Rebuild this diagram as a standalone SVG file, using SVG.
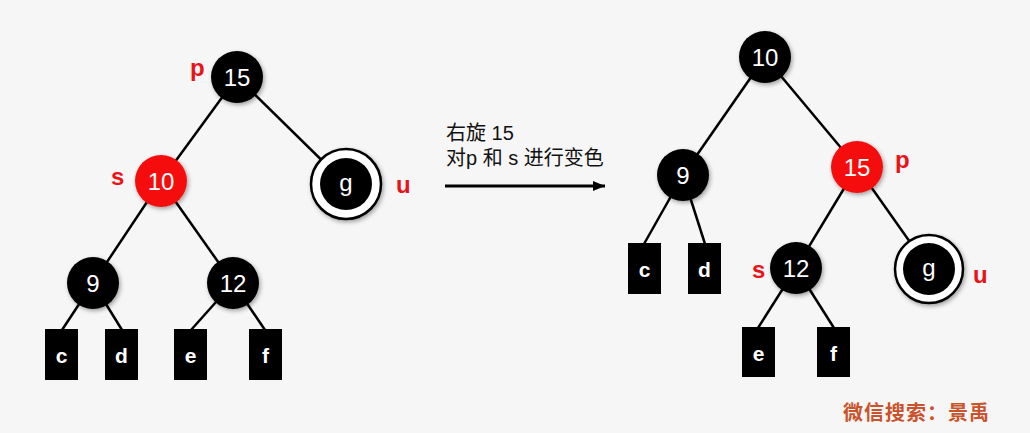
<svg xmlns="http://www.w3.org/2000/svg" width="1030" height="433" viewBox="0 0 1030 433">
<defs>
<filter id="sh" x="-30%" y="-30%" width="160%" height="160%">
<feDropShadow dx="1.5" dy="2" stdDeviation="2" flood-color="#000" flood-opacity="0.35"/>
</filter>
<marker id="ah" markerWidth="12" markerHeight="10" refX="12" refY="5" orient="auto" markerUnits="userSpaceOnUse">
<path d="M0,0 L12,5 L0,10 z" fill="#000"/>
</marker>
</defs>
<style>
.e{stroke:#000;stroke-width:2.5;fill:none}
.nb{fill:#000;filter:url(#sh)}
.nr{fill:#f50f0f;filter:url(#sh)}
.ring{fill:#fff;stroke:#000;stroke-width:2.5;filter:url(#sh)}
.leaf{fill:#000}
.t{font-family:"Liberation Sans",Arial,sans-serif;font-size:24px;fill:#fff;text-anchor:middle}
.lt{font-family:"Liberation Sans",Arial,sans-serif;font-size:21px;font-weight:bold;fill:#fff;text-anchor:middle}
.lab{font-family:"Liberation Sans",Arial,sans-serif;font-size:24px;font-weight:bold;fill:#e8141a}
.cap{font-family:"Liberation Sans","Noto Sans CJK SC",sans-serif;font-size:20px;fill:#111}
.wm{font-family:"Noto Sans CJK SC",sans-serif;font-size:20px;font-weight:bold;fill:#c9532c;letter-spacing:1px}
</style>
<rect width="1030" height="433" fill="#f6f6f6"/>
<g id="connectors">
<line class="e" x1="237" y1="77" x2="161" y2="181"/>
<line class="e" x1="237" y1="77" x2="346" y2="184"/>
<line class="e" x1="161" y1="181" x2="93" y2="283"/>
<line class="e" x1="161" y1="181" x2="233" y2="283"/>
<line class="e" x1="93" y1="283" x2="62" y2="330"/>
<line class="e" x1="93" y1="283" x2="122" y2="330"/>
<line class="e" x1="233" y1="283" x2="191" y2="330"/>
<line class="e" x1="233" y1="283" x2="265" y2="330"/>
<line class="e" x1="765" y1="57" x2="683" y2="175"/>
<line class="e" x1="765" y1="57" x2="857" y2="167"/>
<line class="e" x1="683" y1="175" x2="644" y2="244"/>
<line class="e" x1="683" y1="175" x2="705" y2="244"/>
<line class="e" x1="857" y1="167" x2="796" y2="268"/>
<line class="e" x1="857" y1="167" x2="929" y2="269"/>
<line class="e" x1="796" y1="268" x2="758" y2="328"/>
<line class="e" x1="796" y1="268" x2="834" y2="328"/>
<line x1="445" y1="186" x2="605" y2="186" stroke="#000" stroke-width="3" marker-end="url(#ah)"/>
</g>
<g id="caption">
<text class="cap" x="446" y="140">右旋 15</text>
<text class="cap" x="446" y="165">对p 和 s 进行变色</text>
</g>
<g id="L15"><circle class="nb" cx="237" cy="77" r="26"/><text class="t" x="237" y="86">15</text><text class="lab" x="190" y="76">p</text></g>
<g id="L10"><circle class="nr" cx="161" cy="181" r="26"/><text class="t" x="161" y="190">10</text><text class="lab" x="111" y="185">s</text></g>
<g id="Lg"><circle class="ring" cx="346" cy="184" r="35"/><circle fill="#000" cx="346" cy="184" r="26"/><text class="t" x="346" y="191">g</text><text class="lab" x="396" y="193">u</text></g>
<g id="L9"><circle class="nb" cx="93" cy="283" r="26"/><text class="t" x="93" y="292">9</text></g>
<g id="L12"><circle class="nb" cx="233" cy="283" r="26"/><text class="t" x="233" y="292">12</text></g>
<g id="Lc"><rect class="leaf" x="45" y="329" width="33" height="51"/><text class="lt" x="61.5" y="363">c</text></g>
<g id="Ld"><rect class="leaf" x="105" y="329" width="33" height="51"/><text class="lt" x="121.5" y="363">d</text></g>
<g id="Le"><rect class="leaf" x="174" y="329" width="33" height="51"/><text class="lt" x="190.5" y="363">e</text></g>
<g id="Lf"><rect class="leaf" x="249" y="329" width="33" height="51"/><text class="lt" x="265.5" y="363">f</text></g>
<g id="R10"><circle class="nb" cx="765" cy="57" r="26"/><text class="t" x="765" y="66">10</text></g>
<g id="R15"><circle class="nr" cx="857" cy="167" r="26"/><text class="t" x="857" y="176">15</text><text class="lab" x="895" y="168">p</text></g>
<g id="R9"><circle class="nb" cx="683" cy="175" r="26"/><text class="t" x="683" y="184">9</text></g>
<g id="Rc"><rect class="leaf" x="628" y="243" width="33" height="51"/><text class="lt" x="644.5" y="277">c</text></g>
<g id="Rd"><rect class="leaf" x="688" y="243" width="33" height="51"/><text class="lt" x="704.5" y="277">d</text></g>
<g id="R12"><circle class="nb" cx="796" cy="268" r="26"/><text class="t" x="796" y="277">12</text><text class="lab" x="752" y="278">s</text></g>
<g id="Rg"><circle class="ring" cx="929" cy="269" r="34"/><circle fill="#000" cx="929" cy="269" r="26"/><text class="t" x="929" y="276">g</text><text class="lab" x="973" y="283">u</text></g>
<g id="Re"><rect class="leaf" x="742" y="327" width="33" height="50"/><text class="lt" x="758.5" y="361">e</text></g>
<g id="Rf"><rect class="leaf" x="817" y="327" width="33" height="50"/><text class="lt" x="833.5" y="361">f</text></g>
<text class="wm" x="843" y="420">微信搜索：景禹</text>
</svg>
